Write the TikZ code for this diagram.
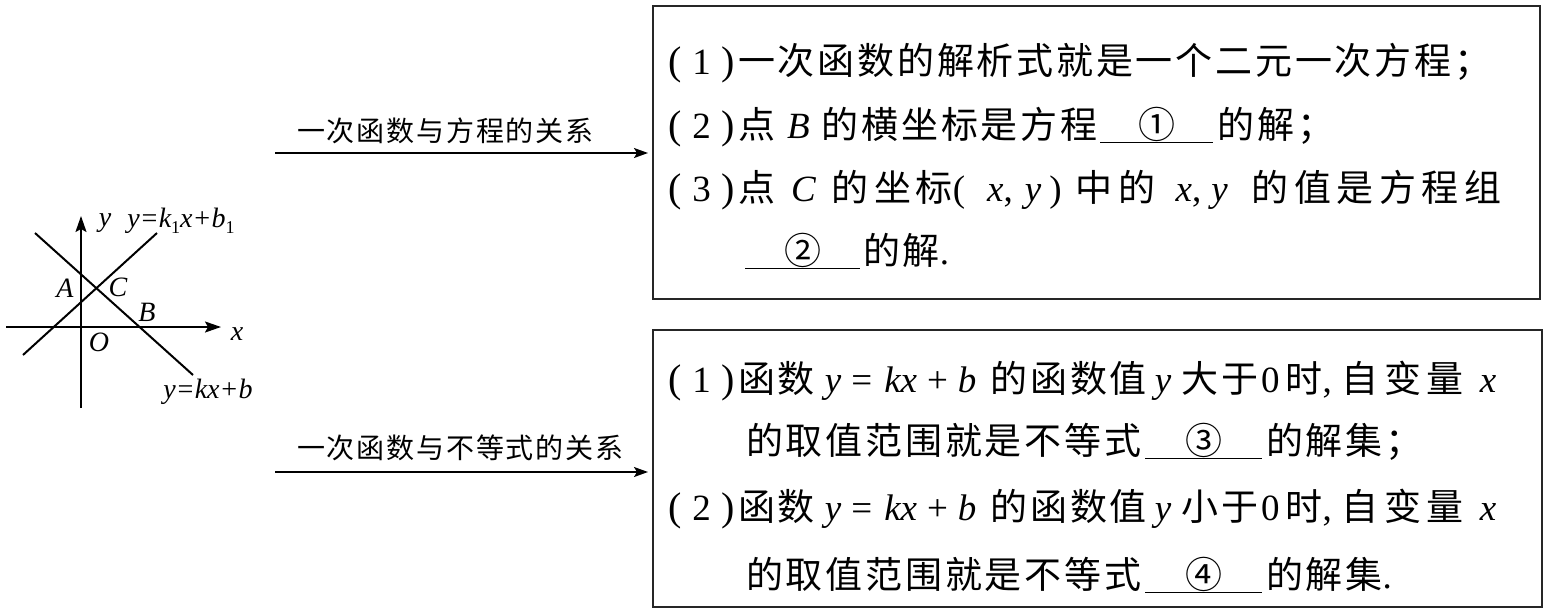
\documentclass[tikz,border=0pt]{standalone}
\usepackage{fontspec}
\usetikzlibrary{arrows.meta}
\setmainfont{Liberation Serif}
\newfontfamily\cjk[LetterSpace=7.5]{Noto Sans CJK SC}
\newfontfamily\cjkw[LetterSpace=15]{Noto Sans CJK SC}
\newfontfamily\cjklab[LetterSpace=6.5]{Noto Sans CJK SC}
\newcommand\pn[1]{\makebox[67pt]{{\rmfamily\fontsize{40}{40}\selectfont(}\hfill{\rmfamily #1}\hfill{\rmfamily\fontsize{40}{40}\selectfont)}}}
\newcommand\iv[1]{{\rmfamily\itshape #1}}
\newcommand\rmt[1]{{\rmfamily #1}}
\newcommand\blank[2]{\underline{\makebox[#1]{#2}}}
\newcommand\sub[1]{\raisebox{-6pt}{\rmfamily\upshape\fontsize{18}{18}\selectfont #1}}
\tikzset{
  boxst/.style={draw=black!85, line width=1.8pt, inner sep=0pt, anchor=north west},
  txt/.style={anchor=base west, inner sep=0pt, font=\cjk\fontsize{37}{37}\selectfont},
  lab/.style={anchor=base west, inner sep=0pt, font=\cjklab\fontsize{28}{28}\selectfont},
  glab/.style={inner sep=0pt, font=\rmfamily\itshape\fontsize{28}{28}\selectfont},
  arr/.style={line width=1.6pt, -{Stealth[length=14pt,width=10pt,inset=3pt]}},
  axis/.style={line width=2pt, -{Stealth[length=16pt,width=11pt,inset=3pt]}},
  gline/.style={line width=2pt}
}
\begin{document}
\begin{tikzpicture}[x=1pt,y=-1pt]
\useasboundingbox (0,0) rectangle (1544,611);
% boxes
\node[boxst, minimum width=887pt, minimum height=293pt] (box1) at (652,5) {};
\node[boxst, minimum width=889pt, minimum height=277pt] (box2) at (652,329) {};
% arrows and labels
\coordinate (a1) at (275,153);
\coordinate (a2) at (275,472);
\draw[arr, shorten >=4pt] (a1) -- (a1 -| box1.west);
\draw[arr, shorten >=4pt] (a2) -- (a2 -| box2.west);
\node[lab] (lab1) at (297,141) {一次函数与方程的关系};
\node[lab] (lab2) at (297,458) {一次函数与不等式的关系};
% box 1 text
\node[txt] (b1l1) at (668,74) {\pn{1}\hspace{3pt}一次函数的解析式就是一个二元一次方程；};
\node[txt] (b1l2) at (668,138) {\pn{2}\hspace{3pt}点\hspace{12pt}\iv{B}\hspace{12pt}的横坐标是方程\hspace{3pt}\blank{113pt}{①}\hspace{4pt}的解；};
\node[txt] (b1l3) at (668,201) {\pn{3}\hspace{3pt}点\hspace{16pt}\iv{C}\hspace{16pt}的\hspace{6pt}坐\hspace{4pt}标\rmt{(}\hspace{22pt}\iv{x}\rmt{,}\hspace{12pt}\iv{y}\hspace{8pt}\rmt{)}\hspace{14pt}中\hspace{6pt}的\hspace{20pt}\iv{x}\rmt{,}\hspace{10pt}\iv{y}\hspace{24pt}{\cjkw 的值是方程组}};
\node[txt] (b1l4) at (668,264) {\hspace{77pt}\blank{115pt}{②}\hspace{3pt}的解\rmt{.}};
% box 2 text
\node[txt] (b2l1) at (668,392) {\pn{1}\hspace{3pt}函数\hspace{10pt}\iv{y}\hspace{10pt}\rmt{=}\hspace{12pt}\iv{kx}\hspace{10pt}\rmt{+}\hspace{10pt}\iv{b}\hspace{14pt}的函数值\hspace{8pt}\iv{y}\hspace{10pt}大于\hspace{3pt}\rmt{0}\hspace{6pt}时\rmt{,}\hspace{10pt}{\cjkw 自变量}\hspace{16pt}\iv{x}};
\node[txt] (b2l2) at (668,454) {\hspace{78pt}的取值范围就是不等式\hspace{4pt}\blank{117pt}{③}\hspace{4pt}的解集；};
\node[txt] (b2l3) at (668,520) {\pn{2}\hspace{3pt}函数\hspace{10pt}\iv{y}\hspace{10pt}\rmt{=}\hspace{12pt}\iv{kx}\hspace{10pt}\rmt{+}\hspace{10pt}\iv{b}\hspace{14pt}的函数值\hspace{8pt}\iv{y}\hspace{10pt}小于\hspace{3pt}\rmt{0}\hspace{6pt}时\rmt{,}\hspace{10pt}{\cjkw 自变量}\hspace{16pt}\iv{x}};
\node[txt] (b2l4) at (668,588) {\hspace{78pt}的取值范围就是不等式\hspace{4pt}\blank{117pt}{④}\hspace{4pt}的解集\rmt{.}};
% graph
\coordinate (xs) at (6,327);
\coordinate (xe) at (221,327);
\coordinate (ys) at (81,408);
\coordinate (ye) at (81,216);
\coordinate (l1s) at (35,233);
\coordinate (l1e) at (193,375);
\coordinate (l2s) at (23,355);
\coordinate (l2e) at (157,233);
\draw[axis] (xs) -- (xe);
\draw[axis] (ys) -- (ye);
\draw[gline] (l1s) -- (l1e);
\draw[gline] (l2s) -- (l2e);
\node[glab] (ly) at (105,223) {y};
\node[glab] (lk1) at (181,221) {y\rmt{=}k\sub{1}x\rmt{+}b\sub{1}};
\node[glab] (lA) at (65,288) {A};
\node[glab] (lC) at (118,287) {C};
\node[glab] (lB) at (147,312) {B};
\node[glab] (lO) at (99,342) {O};
\node[glab] (lx) at (237,334) {x};
\node[glab] (lk) at (208,392) {y\rmt{=}kx\rmt{+}b};
\end{tikzpicture}
\end{document}
